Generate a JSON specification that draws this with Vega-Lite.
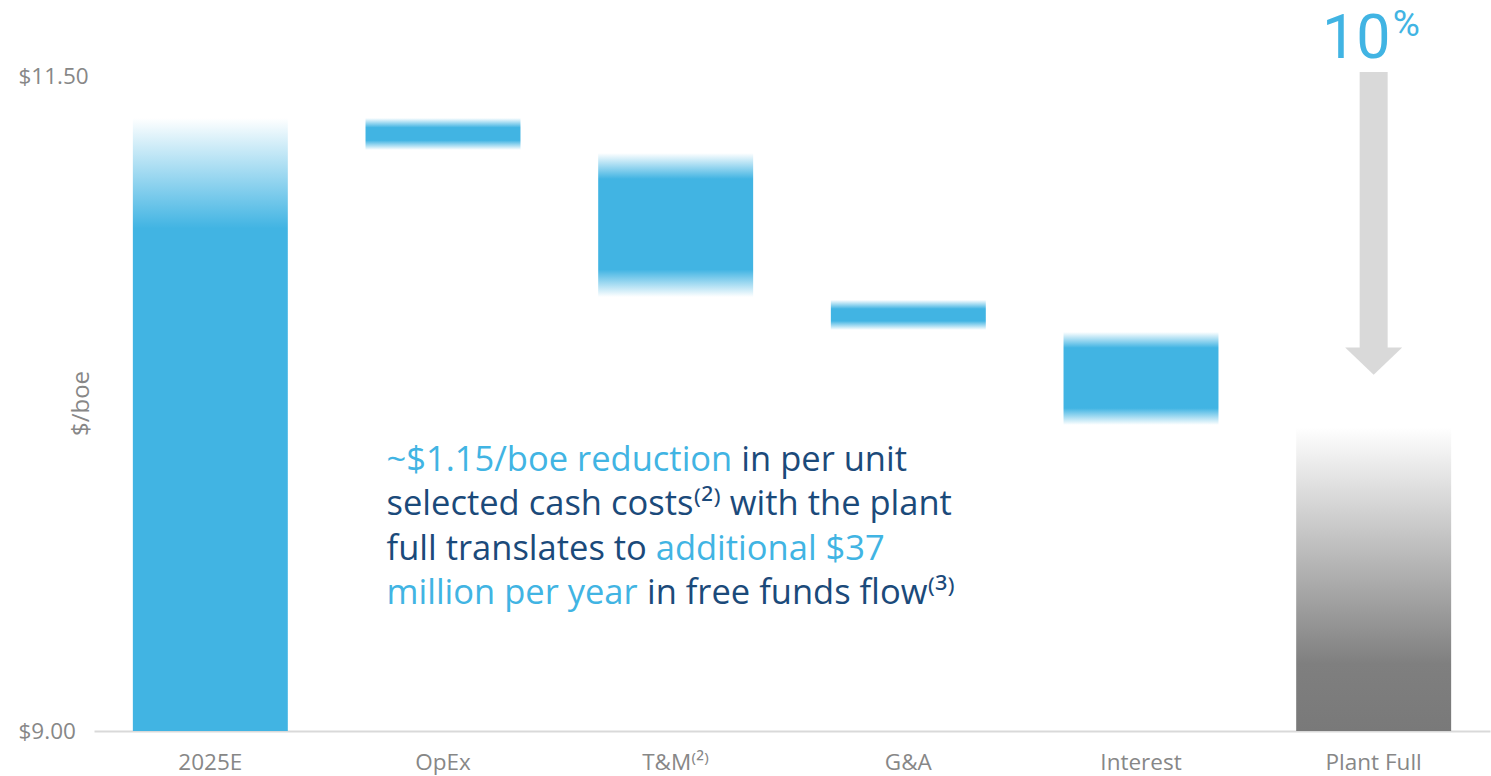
{
  "$schema": "https://vega.github.io/schema/vega-lite/v6.json",
  "width": 1396,
  "height": 726,
  "autosize": {"type": "none"},
  "padding": {"left": 94, "top": 5, "right": 1, "bottom": 45},
  "background": "white",
  "config": {"view": {"stroke": null}, "font": "Open Sans"},
  "datasets": {
    "bars": [
      {"category": "2025E", "start": 9.0, "end": 11.343},
      {"category": "OpEx", "start": 11.343, "end": 11.221},
      {"category": "T&M", "start": 11.209, "end": 10.659},
      {"category": "G&A", "start": 10.648, "end": 10.533},
      {"category": "Interest", "start": 10.525, "end": 10.17},
      {"category": "Plant Full", "start": 10.162, "end": 9.0}
    ],
    "note": [
      {"line": 1, "seg": "a", "text": "~$1.15/boe reduction", "tone": "light"},
      {"line": 1, "seg": "b", "text": "in per unit", "tone": "dark"},
      {"line": 2, "seg": "a", "text": "selected cash costs⁽²⁾ with the plant", "tone": "dark"},
      {"line": 3, "seg": "a", "text": "full translates to", "tone": "dark"},
      {"line": 3, "seg": "b", "text": "additional $37", "tone": "light"},
      {"line": 4, "seg": "a", "text": "million per year", "tone": "light"},
      {"line": 4, "seg": "b", "text": "in free funds flow⁽³⁾", "tone": "dark"}
    ],
    "callout": [
      {"part": "big", "text": "10"},
      {"part": "sup", "text": "%"}
    ],
    "arrow": [{"label": "reduction arrow"}]
  },
  "layer": [
    {
      "data": {"name": "bars"},
      "transform": [{"filter": "datum.category === '2025E'"}],
      "mark": {"type": "bar", "color": {"gradient": "linear", "x1": 0, "y1": 0, "x2": 0, "y2": 1, "stops": [{"offset": 0, "color": "#ffffff"}, {"offset": 0.18, "color": "#41B4E3"}, {"offset": 1, "color": "#41B4E3"}]}},
      "encoding": {
        "x": {"field": "category", "type": "nominal",
          "scale": {"domain": ["2025E", "OpEx", "T&M", "G&A", "Interest", "Plant Full"], "paddingInner": 0.334, "paddingOuter": 0.167},
          "axis": {"title": null, "domainColor": "#d9d9d9", "domainWidth": 2, "ticks": false, "grid": false, "labelColor": "#878787", "labelFontSize": 22.5, "labelFont": "Open Sans", "labelPadding": 20, "labelAngle": 0, "labelExpr": "datum.value === 'T&M' ? 'T&M⁽²⁾' : datum.value"}},
        "y": {"field": "start", "type": "quantitative",
          "scale": {"domain": [9, 11.775], "nice": false, "zero": false},
          "axis": {"title": "$/boe", "values": [9, 11.5], "format": "$.2f", "domain": false, "ticks": false, "grid": false, "labelAlign": "left", "labelPadding": 76, "labelColor": "#878787", "labelFontSize": 22.5, "labelFont": "Open Sans", "titleColor": "#878787", "titleFontSize": 24, "titleFont": "Open Sans", "titleFontWeight": "normal", "titleX": -13, "titleY": 398, "titleAlign": "center", "titleBaseline": "middle"}},
        "y2": {"field": "end"}
      }
    },
    {
      "data": {"name": "bars"},
      "transform": [{"filter": "datum.category === 'OpEx' || datum.category === 'G&A'"}],
      "mark": {"type": "bar", "color": {"gradient": "linear", "x1": 0, "y1": 0, "x2": 0, "y2": 1, "stops": [{"offset": 0, "color": "#ffffff"}, {"offset": 0.3, "color": "#41B4E3"}, {"offset": 0.7, "color": "#41B4E3"}, {"offset": 1, "color": "#ffffff"}]}},
      "encoding": {
        "x": {"field": "category", "type": "nominal"},
        "y": {"field": "start", "type": "quantitative"},
        "y2": {"field": "end"}
      }
    },
    {
      "data": {"name": "bars"},
      "transform": [{"filter": "datum.category === 'T&M'"}],
      "mark": {"type": "bar", "color": {"gradient": "linear", "x1": 0, "y1": 0, "x2": 0, "y2": 1, "stops": [{"offset": 0, "color": "#ffffff"}, {"offset": 0.18, "color": "#41B4E3"}, {"offset": 0.81, "color": "#41B4E3"}, {"offset": 1, "color": "#ffffff"}]}},
      "encoding": {
        "x": {"field": "category", "type": "nominal"},
        "y": {"field": "start", "type": "quantitative"},
        "y2": {"field": "end"}
      }
    },
    {
      "data": {"name": "bars"},
      "transform": [{"filter": "datum.category === 'Interest'"}],
      "mark": {"type": "bar", "color": {"gradient": "linear", "x1": 0, "y1": 0, "x2": 0, "y2": 1, "stops": [{"offset": 0, "color": "#ffffff"}, {"offset": 0.17, "color": "#41B4E3"}, {"offset": 0.82, "color": "#41B4E3"}, {"offset": 1, "color": "#ffffff"}]}},
      "encoding": {
        "x": {"field": "category", "type": "nominal"},
        "y": {"field": "start", "type": "quantitative"},
        "y2": {"field": "end"}
      }
    },
    {
      "data": {"name": "bars"},
      "transform": [{"filter": "datum.category === 'Plant Full'"}],
      "mark": {"type": "bar", "color": {"gradient": "linear", "x1": 0, "y1": 0, "x2": 0, "y2": 1, "stops": [{"offset": 0, "color": "#ffffff"}, {"offset": 0.78, "color": "#7f7f7f"}, {"offset": 1, "color": "#797979"}]}},
      "encoding": {
        "x": {"field": "category", "type": "nominal"},
        "y": {"field": "start", "type": "quantitative"},
        "y2": {"field": "end"}
      }
    },
    {
      "data": {"name": "arrow"},
      "mark": {"type": "bar", "color": "#d9d9d9", "width": 28},
      "encoding": {
        "x": {"datum": "Plant Full", "type": "nominal"},
        "y": {"datum": 11.519, "type": "quantitative"},
        "y2": {"datum": 10.464}
      }
    },
    {
      "data": {"name": "arrow"},
      "mark": {"type": "point", "shape": "M-1,-0.48L1,-0.48L0,0.48Z", "size": 3249, "filled": true, "color": "#d9d9d9", "opacity": 1, "strokeWidth": 0},
      "encoding": {
        "x": {"datum": "Plant Full", "type": "nominal"},
        "y": {"datum": 10.414, "type": "quantitative"}
      }
    },
    {
      "data": {"name": "callout"},
      "transform": [{"filter": "datum.part === 'big'"}],
      "mark": {"type": "text", "align": "right", "baseline": "alphabetic", "fontSize": 61, "font": "Roboto", "color": "#41B4E3", "dx": 17},
      "encoding": {
        "x": {"datum": "Plant Full", "type": "nominal"},
        "y": {"datum": 11.572, "type": "quantitative"},
        "text": {"field": "text"}
      }
    },
    {
      "data": {"name": "callout"},
      "transform": [{"filter": "datum.part === 'sup'"}],
      "mark": {"type": "text", "align": "left", "baseline": "alphabetic", "fontSize": 37, "font": "Roboto", "color": "#41B4E3", "dx": 19},
      "encoding": {
        "x": {"datum": "Plant Full", "type": "nominal"},
        "y": {"datum": 11.657, "type": "quantitative"},
        "text": {"field": "text"}
      }
    },
    {
      "data": {"name": "note"},
      "transform": [{"filter": "datum.line === 1 && datum.seg === 'a'"}],
      "mark": {"type": "text", "align": "left", "baseline": "alphabetic", "fontSize": 34.5, "font": "Open Sans", "dx": 21},
      "encoding": {
        "x": {"datum": "OpEx", "type": "nominal", "bandPosition": 0},
        "y": {"datum": 9.994, "type": "quantitative"},
        "text": {"field": "text"},
        "color": {"field": "tone", "type": "nominal", "scale": {"domain": ["light", "dark"], "range": ["#41B4E3", "#1B4A7A"]}, "legend": null}
      }
    },
    {
      "data": {"name": "note"},
      "transform": [{"filter": "datum.line === 1 && datum.seg === 'b'"}],
      "mark": {"type": "text", "align": "left", "baseline": "alphabetic", "fontSize": 34.5, "font": "Open Sans", "dx": 375.8},
      "encoding": {
        "x": {"datum": "OpEx", "type": "nominal", "bandPosition": 0},
        "y": {"datum": 9.994, "type": "quantitative"},
        "text": {"field": "text"},
        "color": {"field": "tone", "type": "nominal", "legend": null}
      }
    },
    {
      "data": {"name": "note"},
      "transform": [{"filter": "datum.line === 2"}],
      "mark": {"type": "text", "align": "left", "baseline": "alphabetic", "fontSize": 34.5, "font": "Open Sans", "dx": 21},
      "encoding": {
        "x": {"datum": "OpEx", "type": "nominal", "bandPosition": 0},
        "y": {"datum": 9.824, "type": "quantitative"},
        "text": {"field": "text"},
        "color": {"field": "tone", "type": "nominal", "legend": null}
      }
    },
    {
      "data": {"name": "note"},
      "transform": [{"filter": "datum.line === 3 && datum.seg === 'a'"}],
      "mark": {"type": "text", "align": "left", "baseline": "alphabetic", "fontSize": 34.5, "font": "Open Sans", "dx": 21},
      "encoding": {
        "x": {"datum": "OpEx", "type": "nominal", "bandPosition": 0},
        "y": {"datum": 9.654, "type": "quantitative"},
        "text": {"field": "text"},
        "color": {"field": "tone", "type": "nominal", "legend": null}
      }
    },
    {
      "data": {"name": "note"},
      "transform": [{"filter": "datum.line === 3 && datum.seg === 'b'"}],
      "mark": {"type": "text", "align": "left", "baseline": "alphabetic", "fontSize": 34.5, "font": "Open Sans", "dx": 290.2},
      "encoding": {
        "x": {"datum": "OpEx", "type": "nominal", "bandPosition": 0},
        "y": {"datum": 9.654, "type": "quantitative"},
        "text": {"field": "text"},
        "color": {"field": "tone", "type": "nominal", "legend": null}
      }
    },
    {
      "data": {"name": "note"},
      "transform": [{"filter": "datum.line === 4 && datum.seg === 'a'"}],
      "mark": {"type": "text", "align": "left", "baseline": "alphabetic", "fontSize": 34.5, "font": "Open Sans", "dx": 21},
      "encoding": {
        "x": {"datum": "OpEx", "type": "nominal", "bandPosition": 0},
        "y": {"datum": 9.484, "type": "quantitative"},
        "text": {"field": "text"},
        "color": {"field": "tone", "type": "nominal", "legend": null}
      }
    },
    {
      "data": {"name": "note"},
      "transform": [{"filter": "datum.line === 4 && datum.seg === 'b'"}],
      "mark": {"type": "text", "align": "left", "baseline": "alphabetic", "fontSize": 34.5, "font": "Open Sans", "dx": 281.4},
      "encoding": {
        "x": {"datum": "OpEx", "type": "nominal", "bandPosition": 0},
        "y": {"datum": 9.484, "type": "quantitative"},
        "text": {"field": "text"},
        "color": {"field": "tone", "type": "nominal", "legend": null}
      }
    }
  ]
}
